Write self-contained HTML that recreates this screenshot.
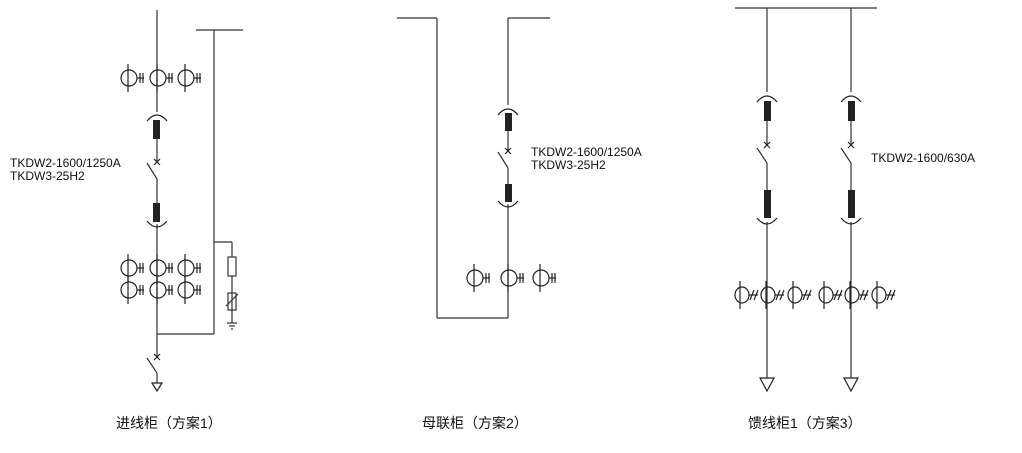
<!DOCTYPE html>
<html><head><meta charset="utf-8"><style>
html,body{margin:0;padding:0;background:#fff;}
svg{display:block;}
text{font-family:"Liberation Sans","Noto Sans CJK SC",sans-serif;fill:#111;}
</style></head><body>
<svg width="1022" height="453" viewBox="0 0 1022 453" xmlns="http://www.w3.org/2000/svg">
<defs>
<g id="ct" fill="none" stroke="#222" stroke-width="1.2">
<ellipse cx="1" cy="0" rx="8" ry="8"/>
<line x1="0" y1="-14" x2="0" y2="14"/>
<line x1="9" y1="0" x2="16" y2="0"/>
<line x1="12" y1="-5" x2="12" y2="5"/>
<line x1="15" y1="-5" x2="15" y2="5"/>
</g>
<g id="ct2" fill="none" stroke="#222" stroke-width="1.2">
<ellipse cx="1" cy="0" rx="7" ry="8"/>
<line x1="-1" y1="-14" x2="-1" y2="14"/>
<line x1="8" y1="0" x2="17" y2="0"/>
<line x1="9" y1="5" x2="13" y2="-5"/>
<line x1="13" y1="5" x2="17" y2="-5"/>
</g>
<path id="arcT" d="M-10 5 Q0 -7 10 5" fill="none" stroke="#222" stroke-width="1.2"/>
<path id="arcB" d="M-10 -5 Q0 7 10 -5" fill="none" stroke="#222" stroke-width="1.2"/>
<g id="xm" stroke="#222" stroke-width="1.2"><line x1="-3" y1="-3" x2="3" y2="3"/><line x1="-3" y1="3" x2="3" y2="-3"/></g>
<path id="tri" d="M-5 0 L5 0 L0 8 Z" fill="none" stroke="#222" stroke-width="1.2"/>
<path id="triL" d="M-7 0 L7 0 L0 13 Z" fill="none" stroke="#222" stroke-width="1.2"/>
</defs>

<g stroke="#333" stroke-width="1.2" fill="none">
<line x1="157" y1="10" x2="157" y2="112"/>
<line x1="157" y1="138" x2="157" y2="162"/>
<line x1="147" y1="163" x2="157" y2="179"/>
<line x1="157" y1="179" x2="157" y2="204"/>
<line x1="157" y1="224" x2="157" y2="334"/>
<line x1="157" y1="334" x2="214" y2="334"/>
<line x1="214" y1="30" x2="214" y2="334"/>
<line x1="196" y1="30" x2="243" y2="30"/>
<line x1="214" y1="242" x2="232" y2="242"/>
<line x1="232" y1="242" x2="232" y2="323"/>
<line x1="157" y1="334" x2="157" y2="356"/>
<line x1="147" y1="358" x2="157" y2="373"/>
<line x1="157" y1="373" x2="157" y2="383"/>
<line x1="227" y1="323" x2="237" y2="323"/>
<line x1="229" y1="326" x2="235" y2="326"/>
<line x1="231" y1="329" x2="233" y2="329"/>
</g>
<rect x="228" y="257" width="8" height="19" fill="#fff" stroke="#333" stroke-width="1.2"/>
<rect x="228" y="293" width="8" height="17" fill="none" stroke="#333" stroke-width="1.2"/>
<line x1="226" y1="306" x2="238" y2="294" stroke="#333" stroke-width="1.2"/>
<rect x="153" y="120" width="7" height="19" fill="#222"/>
<rect x="153" y="203" width="7" height="19" fill="#222"/>
<use href="#arcT" x="157" y="116"/>
<use href="#arcB" x="157" y="226"/>
<use href="#xm" x="157" y="162"/>
<use href="#xm" x="157" y="357"/>
<use href="#tri" x="157" y="383"/>
<use href="#ct" x="128" y="78"/><use href="#ct" x="157" y="78"/><use href="#ct" x="185" y="78"/>
<use href="#ct" x="128" y="268"/><use href="#ct" x="157" y="268"/><use href="#ct" x="185" y="268"/>
<use href="#ct" x="128" y="290"/><use href="#ct" x="157" y="290"/><use href="#ct" x="185" y="290"/>
<text x="10" y="167" font-size="12">TKDW2-1600/1250A</text>
<text x="10" y="180" font-size="12">TKDW3-25H2</text>

<g stroke="#333" stroke-width="1.2" fill="none">
<line x1="397" y1="18" x2="437" y2="18"/>
<line x1="437" y1="18" x2="437" y2="318"/>
<line x1="437" y1="318" x2="508" y2="318"/>
<line x1="508" y1="18" x2="550" y2="18"/>
<line x1="508" y1="18" x2="508" y2="105"/>
<line x1="508" y1="130" x2="508" y2="151"/>
<line x1="498" y1="152" x2="508" y2="168"/>
<line x1="508" y1="168" x2="508" y2="185"/>
<line x1="508" y1="204" x2="508" y2="318"/>
</g>
<rect x="505" y="113" width="7" height="18" fill="#222"/>
<rect x="505" y="184" width="7" height="18" fill="#222"/>
<use href="#arcT" x="508" y="110"/>
<use href="#arcB" x="508" y="206"/>
<use href="#xm" x="508" y="151"/>
<use href="#ct" x="474" y="278"/><use href="#ct" x="508" y="278"/><use href="#ct" x="540" y="278"/>
<text x="531" y="156" font-size="12">TKDW2-1600/1250A</text>
<text x="531" y="169" font-size="12">TKDW3-25H2</text>

<g stroke="#333" stroke-width="1.2" fill="none">
<line x1="735" y1="8" x2="877" y2="8"/>
<line x1="767" y1="8" x2="767" y2="92"/>
<line x1="767" y1="120" x2="767" y2="145"/>
<line x1="757" y1="148" x2="767" y2="163"/>
<line x1="767" y1="163" x2="767" y2="190"/>
<line x1="767" y1="222" x2="767" y2="378"/>
<line x1="851" y1="8" x2="851" y2="92"/>
<line x1="851" y1="120" x2="851" y2="145"/>
<line x1="841" y1="148" x2="851" y2="163"/>
<line x1="851" y1="163" x2="851" y2="190"/>
<line x1="851" y1="222" x2="851" y2="378"/>
</g>
<rect x="764" y="101" width="7" height="20" fill="#222"/>
<rect x="764" y="190" width="7" height="28" fill="#222"/>
<rect x="848" y="101" width="7" height="20" fill="#222"/>
<rect x="848" y="190" width="7" height="28" fill="#222"/>
<use href="#arcT" x="767" y="97"/><use href="#arcB" x="767" y="223"/>
<use href="#arcT" x="851" y="97"/><use href="#arcB" x="851" y="223"/>
<use href="#xm" x="767" y="145"/><use href="#xm" x="851" y="145"/>
<use href="#triL" x="767" y="378"/><use href="#triL" x="851" y="378"/>
<use href="#ct2" x="741" y="295"/><use href="#ct2" x="767" y="295"/><use href="#ct2" x="794" y="295"/>
<use href="#ct2" x="825" y="295"/><use href="#ct2" x="851" y="295"/><use href="#ct2" x="878" y="295"/>
<text x="871" y="162" font-size="12">TKDW2-1600/630A</text>

<text x="116" y="428" font-size="14">进线柜（方案1）</text>
<text x="422" y="428" font-size="14">母联柜（方案2）</text>
<text x="748" y="428" font-size="14">馈线柜1（方案3）</text>
</svg>
</body></html>
